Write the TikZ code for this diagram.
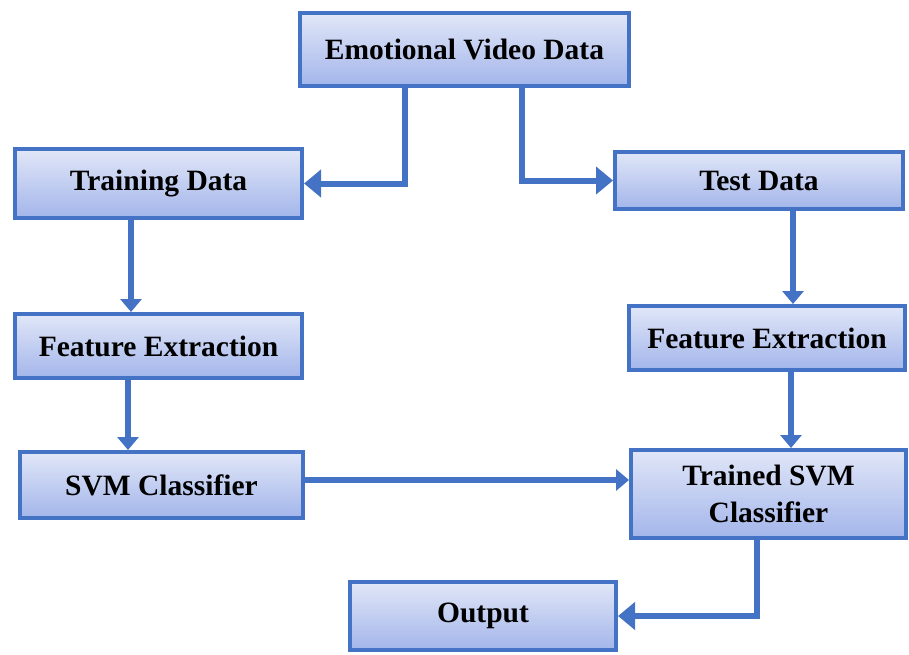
\documentclass[tikz,border=0pt]{standalone}
\usepackage{fontspec}
\setmainfont{Liberation Serif}
\usepackage{tikz}
\usetikzlibrary{positioning,arrows.meta}

\definecolor{boxblue}{HTML}{4472C4}
\definecolor{filltop}{HTML}{E1E7F8}
\definecolor{fillbot}{HTML}{A3B5EA}

\begin{document}
\begin{tikzpicture}[
x=1pt, y=-1pt,
box/.style={draw=boxblue, line width=4pt, top color=filltop, bottom color=fillbot, align=center, inner sep=0pt, font=\fontsize{29.5}{37}\selectfont\bfseries},
arrow/.style={-{Triangle[width=27pt,length=17pt]}, line width=6pt, boxblue},
smallarrow/.style={-{Triangle[width=21pt,length=13pt]}, line width=6pt, boxblue}
]
\useasboundingbox (0,0) rectangle (909,655);
\node[box, minimum width=329pt, minimum height=73pt] (video) at (464.5,49.5) {Emotional Video Data};
\node[box, minimum width=287pt, minimum height=69pt] (train) at (158.5,183.5) {Training Data};
\node[box, minimum width=288pt, minimum height=57pt] (test) at (759,180.5) {Test Data};
\node[box, minimum width=287pt, minimum height=64pt] (featL) at (158.5,346) {Feature Extraction};
\node[box, minimum width=276pt, minimum height=64pt] (featR) at (767,338) {Feature Extraction};
\node[box, minimum width=283pt, minimum height=66pt] (svm) at (161.5,485) {SVM Classifier};
\node[box, minimum width=275pt, minimum height=88pt] (trained) at (768.5,494) {Trained SVM\\Classifier};
\node[box, minimum width=266pt, minimum height=68pt] (output) at (483,616) {Output};

\draw[arrow] ([xshift=-59.5pt]video.south) |- (train.east);
\draw[arrow] ([xshift=57.5pt]video.south) |- (test.west);
\draw[smallarrow] ([xshift=-27.5pt]train.south) -- ([xshift=-27.5pt]train.south |- featL.north);
\draw[smallarrow] ([xshift=34pt]test.south) -- ([xshift=34pt]test.south |- featR.north);
\draw[smallarrow] ([xshift=-30.5pt]featL.south) -- ([xshift=-30.5pt]featL.south |- svm.north);
\draw[smallarrow] ([xshift=24pt]featR.south) -- ([xshift=24pt]featR.south |- trained.north);
\draw[smallarrow] ([yshift=5pt]svm.east) -- ([yshift=5pt]svm.east -| trained.west);
\draw[arrow] ([xshift=-11.5pt]trained.south) |- (output.east);
\end{tikzpicture}
\end{document}
